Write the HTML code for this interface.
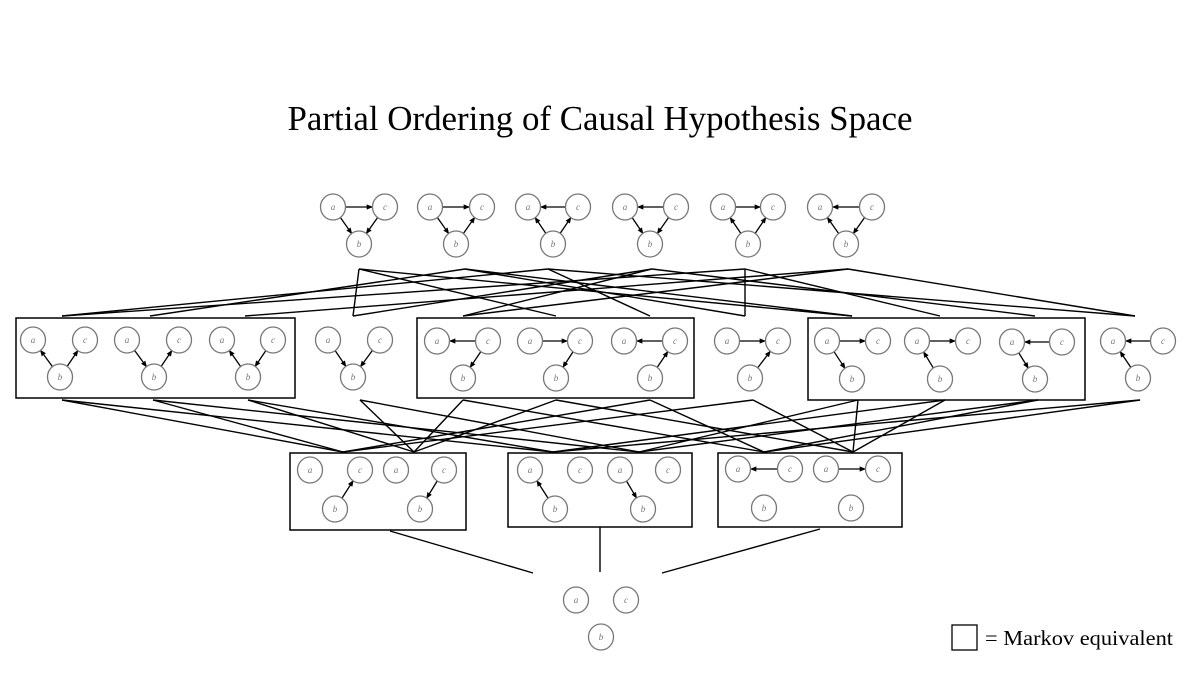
<!DOCTYPE html>
<html><head><meta charset="utf-8"><style>
html,body{margin:0;padding:0;background:#fff;}
svg{display:block;}
.lbl{font-family:"Liberation Serif",serif;font-style:italic;font-size:9px;fill:#777;}
</style></head><body>
<svg id="fig" width="1200" height="675" viewBox="0 0 1200 675">
<defs><marker id="ah" viewBox="0 0 10 10" refX="9" refY="5" markerWidth="5" markerHeight="5" orient="auto"><path d="M0,1 L10,5 L0,9 z" fill="#000"/></marker></defs>
<text x="600" y="130" text-anchor="middle" font-family="Liberation Serif, serif" font-size="35" textLength="625" lengthAdjust="spacingAndGlyphs" fill="#000">Partial Ordering of Causal Hypothesis Space</text>
<g id="links"></g>
<g id="boxes"></g>
<g id="graphs"></g>
<rect x="952" y="625" width="25" height="25" fill="none" stroke="#000" stroke-width="1.3"/>
<text x="985" y="645" font-family="Liberation Serif, serif" font-size="21" textLength="188" lengthAdjust="spacingAndGlyphs" fill="#000">= Markov equivalent</text>
</svg>
<script>
// graphs: [a.x, a.y, c.x, c.y, b.x, b.y, edges]
const topGraphs = [
 [333,207,385,207,359,244,["ac","ab","cb"]],
 [430,207,482,207,456,244,["ac","ab","bc"]],
 [528,207,578,207,553,244,["ca","ba","bc"]],
 [625,207,676,207,650,244,["ca","ab","cb"]],
 [723,207,773,207,748,244,["ac","ba","bc"]],
 [820,207,872,207,846,244,["ca","ba","cb"]]
];
const midGraphs = [
 [33,340,85,340,60,377,["ba","bc"]],
 [127,340,179,340,154,377,["ab","bc"]],
 [222,340,273,340,248,377,["ba","cb"]],
 [328,340,380,340,353,377,["ab","cb"]],
 [437,341,488,341,463,378,["ca","cb"]],
 [530,341,580,341,556,378,["ac","cb"]],
 [624,341,675,341,650,378,["ca","bc"]],
 [727,341,778,341,750,378,["ac","bc"]],
 [827,341,878,341,852,379,["ac","ab"]],
 [917,341,968,341,940,379,["ac","ba"]],
 [1012,342,1062,342,1035,379,["ca","ab"]],
 [1113,341,1163,341,1138,378,["ca","ba"]]
];
const botGraphs = [
 [310,470,360,470,335,509,["bc"]],
 [396,470,444,470,420,509,["cb"]],
 [530,470,580,470,555,509,["ba"]],
 [620,470,668,470,643,509,["ab"]],
 [738,469,790,469,764,508,["ca"]],
 [826,469,878,469,851,508,["ac"]]
];
const emptyGraph = [576,600,626,600,601,637,[]];
const boxes = [[16,318,295,398],[417,318,694,398],[808,318,1085,400],[290,453,466,530],[508,453,692,527],[718,453,902,527]];
const topLinks = [[0,3],[0,5],[0,8],[1,1],[1,7],[1,8],[2,0],[2,6],[2,11],[3,3],[3,4],[3,10],[4,0],[4,7],[4,9],[5,2],[5,4],[5,11]];
const topAnchorX = [359,465,548,652,745,848];
const midTopX = [62,150,245,353,463,556,650,745,852,940,1035,1135];
const midBotX = [62,153,248,360,463,556,650,753,858,945,1038,1140];
const botAnchorX = [343,414,553,639,764,853];
const midLinks = [[0,2],[0,0],[1,3],[1,0],[2,2],[2,1],[3,3],[3,1],[4,4],[4,1],[5,5],[5,1],[6,4],[6,0],[7,5],[7,0],[8,5],[8,3],[9,5],[9,2],[10,4],[10,3],[11,4],[11,2]];
const finalLinks = [[390,531,533,573],[600,527,600,572],[820,529,662,573]];

const NS="http://www.w3.org/2000/svg";
function mk(t,a,p){const e=document.createElementNS(NS,t);for(const k in a)e.setAttribute(k,a[k]);p.appendChild(e);return e;}
const L=document.getElementById('links'),B=document.getElementById('boxes'),G=document.getElementById('graphs');
function line(x1,y1,x2,y2,name){const e=mk('line',{x1,y1,x2,y2,stroke:'#000','stroke-width':1.4},L);

}
topLinks.forEach(([t,m])=>line(topAnchorX[t],269,midTopX[m],316,'link-top-mid'));
midLinks.forEach(([m,b])=>line(midBotX[m],400,botAnchorX[b],452,'link-mid-bottom'));
finalLinks.forEach(f=>line(f[0],f[1],f[2],f[3],'link-to-empty'));
boxes.forEach(b=>{const e=mk('rect',{x:b[0],y:b[1],width:b[2]-b[0],height:b[3]-b[1],fill:'none',stroke:'#000','stroke-width':1.5},B);

});
const R=12.5;
function drawGraph(g,name){
 const grp=mk('g',{},G);
 
 
 const P={a:[g[0],g[1]],c:[g[2],g[3]],b:[g[4],g[5]]};
 g[6].forEach(ed=>{const s=P[ed[0]],t=P[ed[1]];const dx=t[0]-s[0],dy=t[1]-s[1],d=Math.hypot(dx,dy);
  const e=mk('line',{x1:s[0]+dx/d*R,y1:s[1]+dy/d*R,x2:t[0]-dx/d*R,y2:t[1]-dy/d*R,stroke:'#000','stroke-width':1.3,'marker-end':'url(#ah)'},grp);
  
  });
 for(const k of ['a','c','b']){const c=mk('ellipse',{cx:P[k][0],cy:P[k][1],rx:R,ry:13,fill:'#fff',stroke:'#777','stroke-width':1.3},grp);
  
  
  const t=mk('text',{x:P[k][0],y:P[k][1]+3,'text-anchor':'middle',class:'lbl'},grp);t.textContent=k;
  
  }
}
topGraphs.forEach(g=>drawGraph(g,'full-graph'));
midGraphs.forEach(g=>drawGraph(g,'two-edge-graph'));
botGraphs.forEach(g=>drawGraph(g,'one-edge-graph'));
drawGraph(emptyGraph,'empty-graph');
</script>
</body></html>
